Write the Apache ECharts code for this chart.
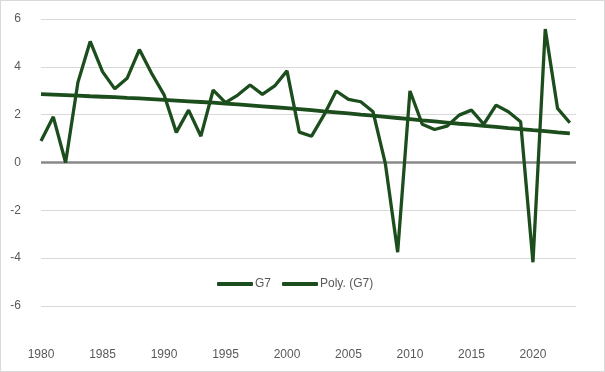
<!DOCTYPE html>
<html>
<head>
<meta charset="utf-8">
<script src="https://cdn.jsdelivr.net/npm/echarts@6/dist/echarts.min.js"></script>
<style>
html,body{margin:0;padding:0;background:#fff;}
#chart{width:603px;height:370px;border:1px solid #d9d9d9;}
</style>
</head>
<body>
<div id="chart"></div>
<script>
const years = [1980,1981,1982,1983,1984,1985,1986,1987,1988,1989,
  1990,1991,1992,1993,1994,1995,1996,1997,1998,1999,
  2000,2001,2002,2003,2004,2005,2006,2007,2008,2009,
  2010,2011,2012,2013,2014,2015,2016,2017,2018,2019,
  2020,2021,2022,2023];
const g7 = [0.9,1.91,0.0,3.35,5.06,3.8,3.08,3.52,4.72,3.72,
  2.84,1.26,2.19,1.1,3.03,2.5,2.82,3.24,2.85,3.2,
  3.83,1.27,1.1,1.98,2.99,2.64,2.54,2.12,-0.05,-3.75,
  2.99,1.6,1.38,1.52,1.98,2.19,1.6,2.4,2.12,1.7,
  -4.17,5.58,2.26,1.66];
const poly = [2.86,2.84,2.82,2.8,2.77,2.75,2.73,2.7,2.68,2.65,
  2.62,2.59,2.56,2.53,2.5,2.46,2.43,2.39,2.35,2.31,
  2.27,2.23,2.19,2.14,2.1,2.05,2.0,1.96,1.91,1.86,
  1.81,1.76,1.72,1.67,1.62,1.58,1.53,1.49,1.44,1.4,
  1.35,1.31,1.26,1.22];
const yTicks = [-6,-4,-2,0,2,4,6];

const green = '#1c4d1c';
const chart = echarts.init(document.getElementById('chart'));
chart.setOption({
  animation: false,
  textStyle: {fontFamily: 'Liberation Sans, Arial, sans-serif'},
  grid: {left: 40, right: 28, top: 18, bottom: 65},
  legend: {
    left: 211, top: 272,
    itemWidth: 36, itemHeight: 4, itemGap: 11,
    icon: 'roundRect',
    textStyle: {color: '#595959', fontSize: 12, padding: [0,0,0,-3]},
    data: ['G7', 'Poly. (G7)']
  },
  xAxis: {
    type: 'value', min: 1980, max: 2023.5, interval: 5,
    axisLine: {show: false}, axisTick: {show: false},
    splitLine: {show: false},
    axisLabel: {color: '#595959', fontSize: 12, margin: 43,
      formatter: v => (v % 5 === 0 ? String(v) : '')}
  },
  yAxis: {
    type: 'value', min: yTicks[0], max: yTicks[yTicks.length-1], interval: 2,
    axisLine: {show: false}, axisTick: {show: false},
    splitLine: {lineStyle: {color: '#d9d9d9', width: 1}},
    axisLabel: {color: '#595959', fontSize: 12, margin: 20}
  },
  series: [
    {
      name: 'G7', type: 'line', symbol: 'none',
      data: years.map((y,i) => [y, g7[i]]),
      lineStyle: {color: green, width: 3.3}, itemStyle: {color: green},
      z: 3,
      markLine: {
        silent: true, symbol: 'none', label: {show: false},
        lineStyle: {color: '#898989', width: 2.5, type: 'solid'},
        data: [{yAxis: 0}], z: 1
      }
    },
    {
      name: 'Poly. (G7)', type: 'line', symbol: 'none',
      data: years.map((y,i) => [y, poly[i]]),
      lineStyle: {color: green, width: 3.8}, itemStyle: {color: green},
      z: 4
    }
  ]
});
</script>
</body>
</html>
